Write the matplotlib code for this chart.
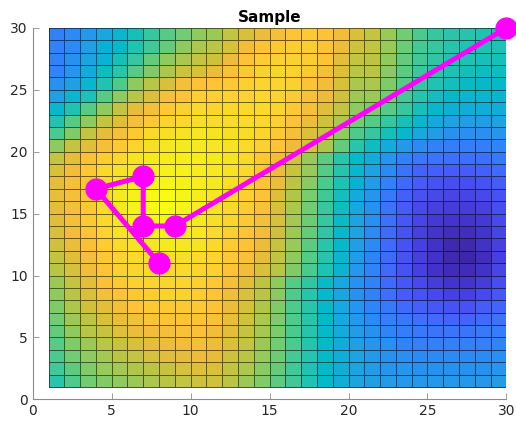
import numpy as np
import matplotlib.pyplot as plt
from matplotlib.colors import LinearSegmentedColormap

# cell values, top row (y = 29) first, columns x = 1..29
cost_rows = [
    [22, 24, 28, 33, 38, 44, 50, 56, 60, 64, 66, 72, 76, 79, 82, 85, 86, 84, 81, 76, 72, 65, 60, 54, 50, 48, 47, 46, 46],
    [22, 24, 30, 36, 40, 46, 52, 58, 64, 68, 70, 76, 81, 84, 86, 87, 87, 84, 80, 74, 72, 65, 59, 53, 50, 47, 46, 45, 45],
    [22, 26, 32, 37, 44, 50, 58, 64, 68, 72, 74, 80, 84, 87, 88, 88, 87, 84, 78, 72, 71, 64, 58, 52, 49, 46, 45, 44, 44],
    [23, 27, 34, 42, 48, 56, 62, 68, 74, 76, 80, 83, 86, 88, 89, 88, 86, 82, 77, 70, 70, 63, 57, 51, 48, 45, 43, 42, 42],
    [26, 30, 38, 46, 55, 64, 70, 76, 82, 84, 85, 86, 88, 89, 89, 88, 84, 81, 76, 68, 68, 62, 56, 50, 46, 43, 41, 40, 40],
    [30, 38, 45, 56, 64, 70, 76, 82, 85, 88, 88, 89, 89, 90, 89, 87, 83, 79, 74, 66, 66, 60, 53, 47, 43, 40, 39, 38, 38],
    [38, 46, 56, 64, 72, 78, 82, 86, 88, 90, 89, 90, 90, 90, 89, 86, 82, 77, 72, 64, 62, 56, 50, 44, 39, 36, 35, 35, 35],
    [46, 56, 64, 72, 77, 82, 86, 89, 90, 92, 91, 91, 91, 90, 88, 84, 79, 74, 68, 60, 56, 50, 44, 38, 34, 31, 30, 30, 31],
    [54, 62, 72, 78, 82, 86, 90, 92, 93, 94, 93, 92, 91, 89, 86, 82, 77, 72, 64, 55, 50, 44, 38, 33, 29, 26, 25, 25, 27],
    [64, 72, 77, 82, 86, 89, 92, 94, 95, 95, 94, 93, 91, 88, 85, 80, 75, 68, 58, 48, 42, 34, 28, 24, 22, 21, 21, 21, 23],
    [72, 78, 83, 87, 90, 93, 95, 96, 96, 96, 95, 93, 90, 86, 81, 74, 66, 57, 48, 40, 34, 27, 22, 20, 19, 18, 18, 18, 20],
    [76, 81, 86, 90, 93, 95, 96, 97, 97, 96, 95, 93, 90, 86, 80, 73, 65, 56, 47, 38, 31, 24, 19, 16, 15, 14, 14, 15, 17],
    [78, 82, 86, 90, 94, 96, 98, 98, 97, 96, 95, 92, 89, 85, 79, 71, 63, 54, 45, 36, 29, 22, 17, 14, 12, 11, 11, 12, 14],
    [79, 82, 86, 91, 95, 97, 99, 100, 98, 96, 94, 91, 88, 84, 77, 69, 61, 52, 43, 34, 27, 20, 15, 12, 10, 9, 9, 10, 12],
    [78, 82, 86, 91, 95, 98, 100, 100, 98, 96, 93, 90, 87, 83, 76, 68, 60, 51, 42, 33, 26, 19, 14, 10, 8, 7, 7, 8, 11],
    [77, 82, 86, 90, 94, 97, 99, 99, 97, 95, 92, 89, 86, 82, 75, 67, 59, 50, 41, 32, 25, 18, 13, 9, 6, 5, 5, 6, 10],
    [76, 81, 85, 89, 93, 96, 97, 97, 96, 94, 91, 88, 85, 81, 74, 66, 58, 49, 40, 31, 24, 17, 12, 8, 5, 3, 3, 5, 9],
    [74, 79, 83, 87, 91, 93, 94, 95, 94, 93, 90, 87, 84, 80, 73, 65, 57, 48, 39, 30, 24, 17, 12, 8, 4, 1, 1, 4, 8],
    [72, 77, 82, 86, 89, 91, 92, 92, 92, 91, 89, 86, 83, 78, 72, 64, 56, 47, 38, 29, 23, 17, 12, 8, 4, 1, 0, 3, 8],
    [70, 75, 81, 85, 88, 89, 90, 90, 90, 89, 88, 85, 81, 76, 70, 62, 54, 45, 37, 28, 23, 17, 12, 8, 4, 2, 2, 4, 9],
    [66, 72, 78, 83, 86, 88, 89, 89, 89, 88, 86, 82, 77, 71, 64, 56, 49, 41, 33, 26, 22, 17, 13, 10, 7, 5, 5, 7, 11],
    [64, 70, 76, 82, 84, 86, 87, 88, 88, 87, 85, 81, 76, 70, 63, 55, 48, 40, 32, 26, 22, 18, 14, 12, 10, 8, 8, 10, 13],
    [62, 68, 74, 78, 82, 85, 86, 86, 86, 86, 84, 80, 75, 69, 62, 55, 48, 40, 33, 27, 23, 20, 17, 15, 13, 12, 12, 14, 16],
    [60, 66, 71, 76, 79, 82, 84, 85, 85, 85, 83, 79, 74, 68, 62, 55, 48, 40, 33, 28, 24, 22, 20, 18, 17, 16, 16, 17, 19],
    [58, 64, 70, 73, 77, 79, 81, 82, 83, 83, 81, 78, 73, 67, 61, 54, 47, 40, 34, 29, 26, 23, 21, 20, 19, 19, 19, 20, 21],
    [56, 62, 66, 70, 73, 76, 78, 80, 81, 82, 80, 76, 72, 66, 60, 54, 47, 40, 34, 30, 27, 25, 23, 22, 22, 22, 22, 22, 23],
    [54, 60, 64, 67, 70, 72, 75, 77, 78, 80, 78, 74, 70, 65, 59, 53, 47, 40, 35, 31, 28, 26, 25, 24, 24, 24, 24, 24, 25],
    [52, 57, 62, 65, 67, 69, 71, 73, 75, 77, 76, 72, 68, 63, 58, 52, 46, 40, 35, 32, 29, 27, 27, 26, 26, 26, 26, 26, 27],
    [48, 55, 60, 62, 64, 66, 68, 70, 72, 74, 74, 70, 66, 62, 57, 52, 46, 40, 35, 32, 30, 29, 28, 28, 28, 28, 28, 28, 29],
]

# path through the field
path_x = [30, 9, 7, 7, 4, 8]
path_y = [30, 14, 14, 18, 17, 11]

grid_edges = np.arange(1, 31)
ticks = [0, 5, 10, 15, 20, 25, 30]

# parula-like colormap
parula = LinearSegmentedColormap.from_list('parula', [
    (0.2422, 0.1504, 0.6603), (0.2691, 0.2068, 0.8168), (0.2788, 0.2877, 0.9251),
    (0.2718, 0.3790, 0.9827), (0.2177, 0.4755, 0.9901), (0.1598, 0.5579, 0.9497),
    (0.1288, 0.6245, 0.8959), (0.0596, 0.6813, 0.8496), (0.0233, 0.7264, 0.7839),
    (0.1100, 0.7571, 0.7098), (0.2059, 0.7776, 0.6318), (0.3093, 0.7934, 0.5450),
    (0.4451, 0.8006, 0.4445), (0.5917, 0.7922, 0.3501), (0.7160, 0.7750, 0.2730),
    (0.8282, 0.7563, 0.2274), (0.9339, 0.7380, 0.2306), (0.9958, 0.7668, 0.2124),
    (0.9803, 0.8482, 0.1698), (0.9596, 0.9118, 0.1279), (0.9769, 0.9839, 0.0805)])

fig = plt.figure(figsize=(5.16, 4.22), dpi=100)
ax = fig.add_axes([0.0634, 0.0538, 0.918, 0.880])

values = np.flipud(np.array(cost_rows, dtype=float))
ax.pcolormesh(grid_edges, grid_edges, values, cmap=parula, vmin=0, vmax=100,
              edgecolors=(0, 0, 0, 0.55), linewidth=0.6)

ax.plot(path_x, path_y, color='#ff00ff', linewidth=3.6, marker='o',
        markersize=15, clip_on=False, zorder=5)

ax.set_xlim(0, 30)
ax.set_ylim(0, 30)
ax.set_xticks(ticks)
ax.set_yticks(ticks)
ax.tick_params(direction='in', length=4, width=0.6, colors='#8c8c8c',
               labelcolor='#262626', labelsize=10)
for side in ['top', 'right']:
    ax.spines[side].set_visible(False)
for side in ['left', 'bottom']:
    ax.spines[side].set_color('#8c8c8c')
    ax.spines[side].set_linewidth(0.8)

ax.set_title('Sample', fontsize=11, fontweight='bold', color='black', pad=4)

fig.savefig('out.png', dpi=100)
